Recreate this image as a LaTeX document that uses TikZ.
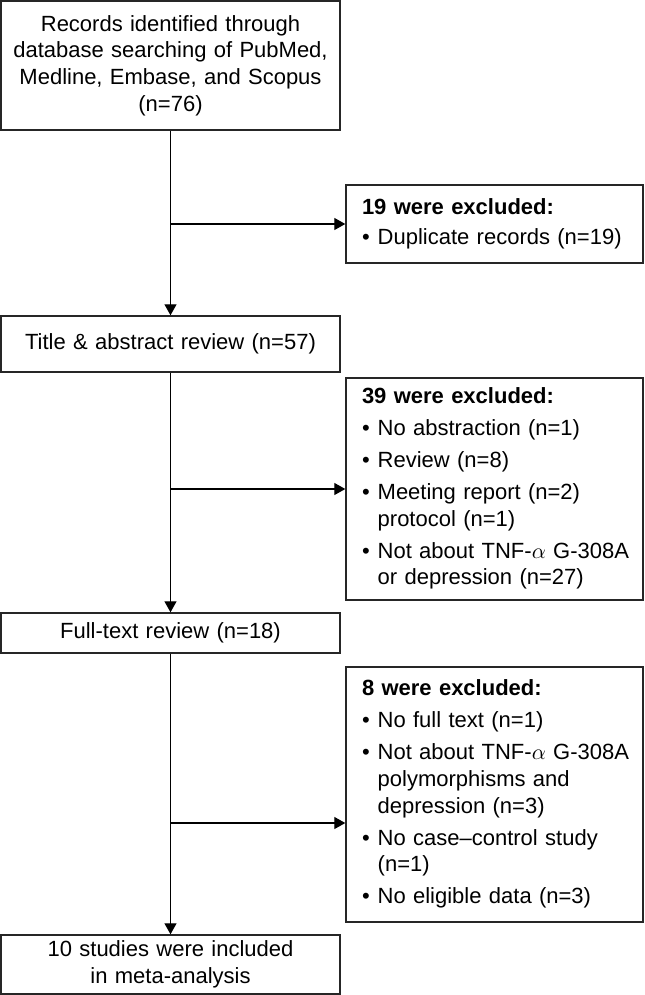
\documentclass[tikz,border=0pt]{standalone}
\usepackage{fontspec}
\setmainfont{Liberation Sans}
\usetikzlibrary{arrows.meta}
% heading row of an exclusion list
\newcommand{\exhead}[1]{\multicolumn{2}{@{}l@{}}{\bfseries #1}}

\begin{document}
\begin{tikzpicture}[x=0.5pt,y=-0.5pt,>={Triangle[length=5.5pt,width=6pt]},
	font=\fontsize{11}{13.3}\selectfont,
	stage/.style={draw=black!85,line width=0.7pt,align=center,
		text width=160pt,inner xsep=4.75pt,inner ysep=2pt},
	exclbox/.style={draw=black!85,line width=0.7pt,align=left,
		text width=132.5pt,inner xsep=8pt,inner ysep=2pt},
	flow/.style={line width=0.6pt}]
\useasboundingbox (0,0) rectangle (644,995);

%========================================
% LEFT: main flow of records
%========================================
\node[stage,minimum height=64.5pt] (recs) at (170.5,65.5)
{Records identified through\\database searching of PubMed,\\
	Medline, Embase, and Scopus\\(n=76)};

\node[stage,minimum height=28pt] (screen) at (170.5,344)
{Title \& abstract review (n=57)};

\node[stage,minimum height=20pt] (fulltext) at (170.5,633)
{Full-text review (n=18)};

\node[stage,minimum height=29.5pt] (incl) at (170.5,964.5)
{10 studies were included\\in meta-analysis};

%========================================
% RIGHT: excluded records
%========================================
\node[exclbox,minimum height=39pt] (dupl) at (494.5,224)
{\begin{tabular}{@{}l@{\hspace{4pt}}l@{}}
	\exhead{19 were excluded:}\\[1.7pt]
	\textbullet & Duplicate records (n=19)
\end{tabular}};

\node[exclbox,minimum height=111pt] (excl39) at (494.5,489)
{\begin{tabular}{@{}l@{\hspace{4pt}}l@{}}
	\exhead{39 were excluded:}\\[2.7pt]
	\textbullet & No abstraction (n=1)\\[2.7pt]
	\textbullet & Review (n=8)\\[2.7pt]
	\textbullet & Meeting report (n=2)\\
	& protocol (n=1)\\[2.7pt]
	\textbullet & Not about TNF-$\alpha$ G-308A\\
	& or depression (n=27)
\end{tabular}};

\node[exclbox,minimum height=127.5pt] (excl8) at (494.5,794.5)
{\begin{tabular}{@{}l@{\hspace{4pt}}l@{}}
	\exhead{8 were excluded:}\\[2.7pt]
	\textbullet & No full text (n=1)\\[2.7pt]
	\textbullet & Not about TNF-$\alpha$ G-308A\\
	& polymorphisms and\\
	& depression (n=3)\\[2.7pt]
	\textbullet & No case--control study\\
	& (n=1)\\[2.7pt]
	\textbullet & No eligible data (n=3)
\end{tabular}};

%========================================
% ARROWS
%========================================
\coordinate (b3) at (170.5,823);

% main trunk
\draw[flow,->] (recs) -- (screen);
\draw[flow,->] (screen) -- (fulltext);
\draw[flow,->] (fulltext) -- (incl);

% branches to exclusions
\draw[flow,->] (recs.south |- dupl.west) -- (dupl.west);
\draw[flow,->] (screen.south |- excl39.west) -- (excl39.west);
\draw[flow,->] (b3) -- (b3 -| excl8.west);
\end{tikzpicture}
\end{document}
